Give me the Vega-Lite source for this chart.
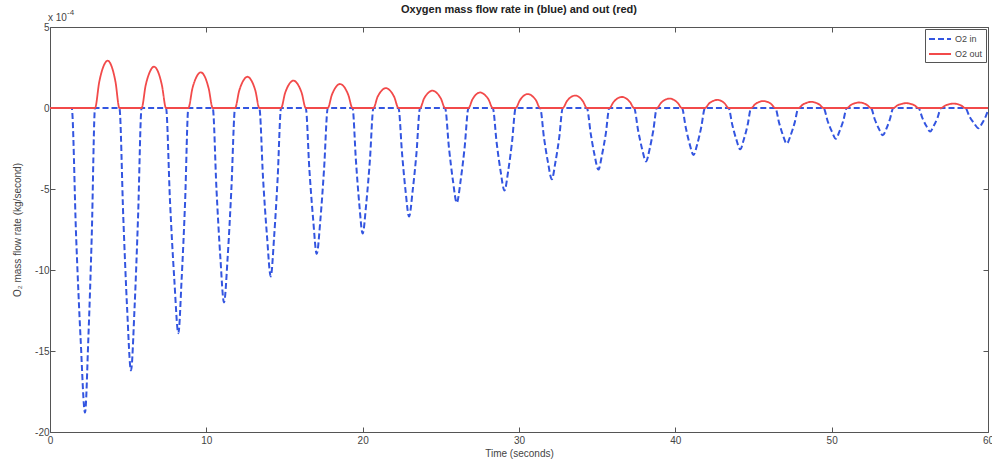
{
  "$schema": "https://vega.github.io/schema/vega-lite/v6.json",
  "width": 938,
  "height": 405,
  "autosize": "none",
  "padding": {"left": 50, "top": 27, "right": 4, "bottom": 30},
  "background": "white",
  "config": {
    "font": "Liberation Sans",
    "view": {"stroke": "#555", "strokeWidth": 1},
    "axis": {
      "labelFont": "Liberation Sans", "labelFontSize": 10, "labelColor": "#444",
      "titleFont": "Liberation Sans", "titleFontSize": 10, "titleFontWeight": "normal", "titleColor": "#444",
      "domain": false, "grid": false, "tickColor": "#555", "tickSize": -5, "labelFlush": false
    }
  },
  "title": {"text": "Oxygen mass flow rate in (blue) and out (red)", "fontSize": 11, "fontWeight": "bold", "color": "#222", "font": "Liberation Sans", "offset": -6, "anchor": "middle", "frame": "group"},
  "datasets": {
    "flow": [
      {"s":"O2 in","t":0,"v":0},
      {"s":"O2 in","t":1.39,"v":0},{"s":"O2 in","t":1.67,"v":-7.9},{"s":"O2 in","t":1.96,"v":-14.29},{"s":"O2 in","t":2.24,"v":-18.8},{"s":"O2 in","t":2.45,"v":-14.29},{"s":"O2 in","t":2.67,"v":-7.9},{"s":"O2 in","t":2.88,"v":0},
      {"s":"O2 in","t":4.44,"v":0},{"s":"O2 in","t":4.69,"v":-6.8},{"s":"O2 in","t":4.93,"v":-12.31},{"s":"O2 in","t":5.18,"v":-16.2},{"s":"O2 in","t":5.41,"v":-12.31},{"s":"O2 in","t":5.63,"v":-6.8},{"s":"O2 in","t":5.86,"v":0},
      {"s":"O2 in","t":7.42,"v":0},{"s":"O2 in","t":7.68,"v":-5.84},{"s":"O2 in","t":7.95,"v":-10.56},{"s":"O2 in","t":8.21,"v":-13.9},{"s":"O2 in","t":8.42,"v":-10.56},{"s":"O2 in","t":8.64,"v":-5.84},{"s":"O2 in","t":8.85,"v":0},
      {"s":"O2 in","t":10.41,"v":0},{"s":"O2 in","t":10.65,"v":-5.04},{"s":"O2 in","t":10.89,"v":-9.12},{"s":"O2 in","t":11.13,"v":-12},{"s":"O2 in","t":11.37,"v":-9.12},{"s":"O2 in","t":11.6,"v":-5.04},{"s":"O2 in","t":11.84,"v":0},
      {"s":"O2 in","t":13.39,"v":0},{"s":"O2 in","t":13.63,"v":-4.37},{"s":"O2 in","t":13.88,"v":-7.9},{"s":"O2 in","t":14.12,"v":-10.4},{"s":"O2 in","t":14.34,"v":-7.9},{"s":"O2 in","t":14.56,"v":-4.37},{"s":"O2 in","t":14.78,"v":0},
      {"s":"O2 in","t":16.36,"v":0},{"s":"O2 in","t":16.59,"v":-3.78},{"s":"O2 in","t":16.83,"v":-6.84},{"s":"O2 in","t":17.06,"v":-9},{"s":"O2 in","t":17.3,"v":-6.84},{"s":"O2 in","t":17.53,"v":-3.78},{"s":"O2 in","t":17.77,"v":0},
      {"s":"O2 in","t":19.35,"v":0},{"s":"O2 in","t":19.57,"v":-3.26},{"s":"O2 in","t":19.78,"v":-5.89},{"s":"O2 in","t":20,"v":-7.75},{"s":"O2 in","t":20.23,"v":-5.89},{"s":"O2 in","t":20.46,"v":-3.26},{"s":"O2 in","t":20.69,"v":0},
      {"s":"O2 in","t":22.29,"v":0},{"s":"O2 in","t":22.52,"v":-2.81},{"s":"O2 in","t":22.74,"v":-5.09},{"s":"O2 in","t":22.97,"v":-6.7},{"s":"O2 in","t":23.2,"v":-5.09},{"s":"O2 in","t":23.44,"v":-2.81},{"s":"O2 in","t":23.67,"v":0},
      {"s":"O2 in","t":25.27,"v":0},{"s":"O2 in","t":25.52,"v":-2.46},{"s":"O2 in","t":25.77,"v":-4.45},{"s":"O2 in","t":26.02,"v":-5.85},{"s":"O2 in","t":26.27,"v":-4.45},{"s":"O2 in","t":26.52,"v":-2.46},{"s":"O2 in","t":26.77,"v":0},
      {"s":"O2 in","t":28.32,"v":0},{"s":"O2 in","t":28.57,"v":-2.14},{"s":"O2 in","t":28.82,"v":-3.88},{"s":"O2 in","t":29.07,"v":-5.1},{"s":"O2 in","t":29.31,"v":-3.88},{"s":"O2 in","t":29.55,"v":-2.14},{"s":"O2 in","t":29.79,"v":0},
      {"s":"O2 in","t":31.35,"v":0},{"s":"O2 in","t":31.6,"v":-1.85},{"s":"O2 in","t":31.85,"v":-3.34},{"s":"O2 in","t":32.1,"v":-4.4},{"s":"O2 in","t":32.33,"v":-3.34},{"s":"O2 in","t":32.57,"v":-1.85},{"s":"O2 in","t":32.8,"v":0},
      {"s":"O2 in","t":34.34,"v":0},{"s":"O2 in","t":34.59,"v":-1.6},{"s":"O2 in","t":34.83,"v":-2.89},{"s":"O2 in","t":35.08,"v":-3.8},{"s":"O2 in","t":35.31,"v":-2.89},{"s":"O2 in","t":35.55,"v":-1.6},{"s":"O2 in","t":35.78,"v":0},
      {"s":"O2 in","t":37.36,"v":0},{"s":"O2 in","t":37.62,"v":-1.39},{"s":"O2 in","t":37.87,"v":-2.51},{"s":"O2 in","t":38.13,"v":-3.3},{"s":"O2 in","t":38.36,"v":-2.51},{"s":"O2 in","t":38.59,"v":-1.39},{"s":"O2 in","t":38.82,"v":0},
      {"s":"O2 in","t":40.42,"v":0},{"s":"O2 in","t":40.67,"v":-1.22},{"s":"O2 in","t":40.91,"v":-2.2},{"s":"O2 in","t":41.16,"v":-2.9},{"s":"O2 in","t":41.41,"v":-2.2},{"s":"O2 in","t":41.65,"v":-1.22},{"s":"O2 in","t":41.9,"v":0},
      {"s":"O2 in","t":43.4,"v":0},{"s":"O2 in","t":43.65,"v":-1.07},{"s":"O2 in","t":43.9,"v":-1.94},{"s":"O2 in","t":44.15,"v":-2.55},{"s":"O2 in","t":44.38,"v":-1.94},{"s":"O2 in","t":44.62,"v":-1.07},{"s":"O2 in","t":44.85,"v":0},
      {"s":"O2 in","t":46.39,"v":0},{"s":"O2 in","t":46.64,"v":-0.92},{"s":"O2 in","t":46.88,"v":-1.67},{"s":"O2 in","t":47.13,"v":-2.2},{"s":"O2 in","t":47.38,"v":-1.67},{"s":"O2 in","t":47.63,"v":-0.92},{"s":"O2 in","t":47.88,"v":0},
      {"s":"O2 in","t":49.48,"v":0},{"s":"O2 in","t":49.74,"v":-0.8},{"s":"O2 in","t":50.01,"v":-1.44},{"s":"O2 in","t":50.27,"v":-1.9},{"s":"O2 in","t":50.5,"v":-1.44},{"s":"O2 in","t":50.74,"v":-0.8},{"s":"O2 in","t":50.97,"v":0},
      {"s":"O2 in","t":52.51,"v":0},{"s":"O2 in","t":52.76,"v":-0.71},{"s":"O2 in","t":53.02,"v":-1.28},{"s":"O2 in","t":53.27,"v":-1.68},{"s":"O2 in","t":53.5,"v":-1.28},{"s":"O2 in","t":53.72,"v":-0.71},{"s":"O2 in","t":53.95,"v":0},
      {"s":"O2 in","t":55.55,"v":0},{"s":"O2 in","t":55.8,"v":-0.61},{"s":"O2 in","t":56.05,"v":-1.1},{"s":"O2 in","t":56.3,"v":-1.45},{"s":"O2 in","t":56.53,"v":-1.1},{"s":"O2 in","t":56.77,"v":-0.61},{"s":"O2 in","t":57,"v":0},
      {"s":"O2 in","t":58.54,"v":0},{"s":"O2 in","t":58.82,"v":-0.53},{"s":"O2 in","t":59.11,"v":-0.95},{"s":"O2 in","t":59.39,"v":-1.25},{"s":"O2 in","t":59.62,"v":-0.95},{"s":"O2 in","t":59.85,"v":-0.53},{"s":"O2 in","t":60,"v":-0.15},
      {"s":"O2 out","t":0,"v":0},
      {"s":"O2 out","t":2.88,"v":0},{"s":"O2 out","t":3.15,"v":1.61},{"s":"O2 out","t":3.42,"v":2.57},{"s":"O2 out","t":3.69,"v":2.92},{"s":"O2 out","t":3.94,"v":2.57},{"s":"O2 out","t":4.19,"v":1.61},{"s":"O2 out","t":4.44,"v":0},
      {"s":"O2 out","t":5.86,"v":0},{"s":"O2 out","t":6.12,"v":1.4},{"s":"O2 out","t":6.39,"v":2.24},{"s":"O2 out","t":6.65,"v":2.55},{"s":"O2 out","t":6.91,"v":2.24},{"s":"O2 out","t":7.16,"v":1.4},{"s":"O2 out","t":7.42,"v":0},
      {"s":"O2 out","t":8.85,"v":0},{"s":"O2 out","t":9.11,"v":1.21},{"s":"O2 out","t":9.38,"v":1.94},{"s":"O2 out","t":9.64,"v":2.2},{"s":"O2 out","t":9.9,"v":1.94},{"s":"O2 out","t":10.15,"v":1.21},{"s":"O2 out","t":10.41,"v":0},
      {"s":"O2 out","t":11.84,"v":0},{"s":"O2 out","t":12.1,"v":1.06},{"s":"O2 out","t":12.37,"v":1.7},{"s":"O2 out","t":12.63,"v":1.93},{"s":"O2 out","t":12.88,"v":1.7},{"s":"O2 out","t":13.14,"v":1.06},{"s":"O2 out","t":13.39,"v":0},
      {"s":"O2 out","t":14.78,"v":0},{"s":"O2 out","t":15.04,"v":0.93},{"s":"O2 out","t":15.31,"v":1.49},{"s":"O2 out","t":15.57,"v":1.69},{"s":"O2 out","t":15.83,"v":1.49},{"s":"O2 out","t":16.1,"v":0.93},{"s":"O2 out","t":16.36,"v":0},
      {"s":"O2 out","t":17.77,"v":0},{"s":"O2 out","t":18.03,"v":0.81},{"s":"O2 out","t":18.29,"v":1.3},{"s":"O2 out","t":18.55,"v":1.48},{"s":"O2 out","t":18.82,"v":1.3},{"s":"O2 out","t":19.08,"v":0.81},{"s":"O2 out","t":19.35,"v":0},
      {"s":"O2 out","t":20.69,"v":0},{"s":"O2 out","t":20.95,"v":0.68},{"s":"O2 out","t":21.22,"v":1.08},{"s":"O2 out","t":21.48,"v":1.23},{"s":"O2 out","t":21.75,"v":1.08},{"s":"O2 out","t":22.02,"v":0.68},{"s":"O2 out","t":22.29,"v":0},
      {"s":"O2 out","t":23.67,"v":0},{"s":"O2 out","t":23.93,"v":0.59},{"s":"O2 out","t":24.2,"v":0.94},{"s":"O2 out","t":24.46,"v":1.07},{"s":"O2 out","t":24.73,"v":0.94},{"s":"O2 out","t":25,"v":0.59},{"s":"O2 out","t":25.27,"v":0},
      {"s":"O2 out","t":26.77,"v":0},{"s":"O2 out","t":27.02,"v":0.53},{"s":"O2 out","t":27.26,"v":0.84},{"s":"O2 out","t":27.51,"v":0.96},{"s":"O2 out","t":27.78,"v":0.84},{"s":"O2 out","t":28.05,"v":0.53},{"s":"O2 out","t":28.32,"v":0},
      {"s":"O2 out","t":29.79,"v":0},{"s":"O2 out","t":30.05,"v":0.47},{"s":"O2 out","t":30.3,"v":0.76},{"s":"O2 out","t":30.56,"v":0.86},{"s":"O2 out","t":30.82,"v":0.76},{"s":"O2 out","t":31.09,"v":0.47},{"s":"O2 out","t":31.35,"v":0},
      {"s":"O2 out","t":32.8,"v":0},{"s":"O2 out","t":33.06,"v":0.42},{"s":"O2 out","t":33.33,"v":0.68},{"s":"O2 out","t":33.59,"v":0.77},{"s":"O2 out","t":33.84,"v":0.68},{"s":"O2 out","t":34.09,"v":0.42},{"s":"O2 out","t":34.34,"v":0},
      {"s":"O2 out","t":35.78,"v":0},{"s":"O2 out","t":36.05,"v":0.37},{"s":"O2 out","t":36.31,"v":0.6},{"s":"O2 out","t":36.58,"v":0.68},{"s":"O2 out","t":36.84,"v":0.6},{"s":"O2 out","t":37.1,"v":0.37},{"s":"O2 out","t":37.36,"v":0},
      {"s":"O2 out","t":38.82,"v":0},{"s":"O2 out","t":39.09,"v":0.32},{"s":"O2 out","t":39.35,"v":0.51},{"s":"O2 out","t":39.62,"v":0.58},{"s":"O2 out","t":39.89,"v":0.51},{"s":"O2 out","t":40.15,"v":0.32},{"s":"O2 out","t":40.42,"v":0},
      {"s":"O2 out","t":41.9,"v":0},{"s":"O2 out","t":42.16,"v":0.28},{"s":"O2 out","t":42.43,"v":0.44},{"s":"O2 out","t":42.69,"v":0.5},{"s":"O2 out","t":42.93,"v":0.44},{"s":"O2 out","t":43.16,"v":0.28},{"s":"O2 out","t":43.4,"v":0},
      {"s":"O2 out","t":44.85,"v":0},{"s":"O2 out","t":45.11,"v":0.24},{"s":"O2 out","t":45.38,"v":0.38},{"s":"O2 out","t":45.64,"v":0.43},{"s":"O2 out","t":45.89,"v":0.38},{"s":"O2 out","t":46.14,"v":0.24},{"s":"O2 out","t":46.39,"v":0},
      {"s":"O2 out","t":47.88,"v":0},{"s":"O2 out","t":48.15,"v":0.21},{"s":"O2 out","t":48.43,"v":0.33},{"s":"O2 out","t":48.7,"v":0.38},{"s":"O2 out","t":48.96,"v":0.33},{"s":"O2 out","t":49.22,"v":0.21},{"s":"O2 out","t":49.48,"v":0},
      {"s":"O2 out","t":50.97,"v":0},{"s":"O2 out","t":51.23,"v":0.19},{"s":"O2 out","t":51.5,"v":0.3},{"s":"O2 out","t":51.76,"v":0.34},{"s":"O2 out","t":52.01,"v":0.3},{"s":"O2 out","t":52.26,"v":0.19},{"s":"O2 out","t":52.51,"v":0},
      {"s":"O2 out","t":53.95,"v":0},{"s":"O2 out","t":54.22,"v":0.17},{"s":"O2 out","t":54.5,"v":0.26},{"s":"O2 out","t":54.77,"v":0.3},{"s":"O2 out","t":55.03,"v":0.26},{"s":"O2 out","t":55.29,"v":0.17},{"s":"O2 out","t":55.55,"v":0},
      {"s":"O2 out","t":57,"v":0},{"s":"O2 out","t":57.26,"v":0.15},{"s":"O2 out","t":57.53,"v":0.24},{"s":"O2 out","t":57.79,"v":0.27},{"s":"O2 out","t":58.04,"v":0.24},{"s":"O2 out","t":58.29,"v":0.15},{"s":"O2 out","t":58.54,"v":0},
      {"s":"O2 out","t":60,"v":0}
    ],
    "note": [{"t": 0, "v": 5, "base": "x 10", "exp": "-4"}]
  },
  "layer": [
    {
      "data": {"name": "flow"},
      "transform": [{"filter": "datum.s == 'O2 in'"}],
      "mark": {"type": "line", "interpolate": "monotone", "strokeWidth": 2, "clip": true},
      "encoding": {
        "x": {"field": "t", "type": "quantitative", "scale": {"domain": [0, 60], "nice": false},
              "axis": {"title": "Time (seconds)", "values": [0,10,20,30,40,50,60], "labelPadding": 8, "titlePadding": 3}},
        "y": {"field": "v", "type": "quantitative", "scale": {"domain": [-20, 5], "nice": false},
              "axis": {"title": "O₂ mass flow rate (kg/second)", "values": [-20,-15,-10,-5,0,5], "labelExpr": "'' + datum.value", "labelPadding": 6, "titlePadding": 12}},
        "color": {"field": "s", "type": "nominal", "scale": {"domain": ["O2 in", "O2 out"], "range": ["#3355e0", "#f24a4a"]},
                  "legend": {"title": null, "orient": "top-right", "offset": 2, "strokeColor": "#555", "fillColor": "white", "padding": 3,
                             "labelFont": "Liberation Sans", "labelFontSize": 9, "labelColor": "#444", "symbolType": "M-1,0H2.67", "symbolSize": 144,
                             "symbolStrokeWidth": 1.8, "rowPadding": 3, "labelOffset": 13}},
        "strokeDash": {"field": "s", "type": "nominal", "scale": {"domain": ["O2 in", "O2 out"], "range": [[6, 3], [1, 0]]}, "legend": null}
      }
    },
    {
      "data": {"name": "flow"},
      "transform": [{"filter": "datum.s == 'O2 out'"}],
      "mark": {"type": "line", "interpolate": "monotone", "strokeWidth": 1.8, "clip": true},
      "encoding": {
        "x": {"field": "t", "type": "quantitative", "axis": {"orient": "top", "labels": false, "title": null, "values": [0,10,20,30,40,50,60]}},
        "y": {"field": "v", "type": "quantitative", "axis": {"orient": "right", "labels": false, "title": null, "values": [-20,-15,-10,-5,0,5]}},
        "color": {"field": "s", "type": "nominal"},
        "strokeDash": {"field": "s", "type": "nominal", "legend": null}
      }
    },
    {
      "data": {"name": "note"},
      "mark": {"type": "text", "align": "left", "baseline": "alphabetic", "dx": -2, "dy": -6, "fontSize": 10, "color": "#444", "font": "Liberation Sans"},
      "encoding": {
        "x": {"field": "t", "type": "quantitative", "axis": null},
        "y": {"field": "v", "type": "quantitative", "axis": null},
        "text": {"field": "base"}
      }
    },
    {
      "data": {"name": "note"},
      "mark": {"type": "text", "align": "left", "baseline": "alphabetic", "dx": 17, "dy": -12, "fontSize": 8, "color": "#444", "font": "Liberation Sans"},
      "encoding": {
        "x": {"field": "t", "type": "quantitative", "axis": null},
        "y": {"field": "v", "type": "quantitative", "axis": null},
        "text": {"field": "exp"}
      }
    }
  ],
  "resolve": {"axis": {"x": "independent", "y": "independent"}}
}
